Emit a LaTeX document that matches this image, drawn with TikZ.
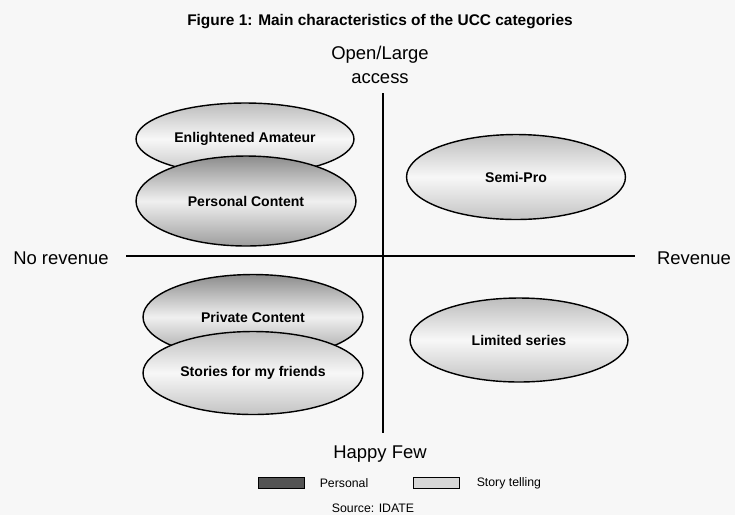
\documentclass[tikz,border=0pt]{standalone}
\usepackage{fontspec}
\setmainfont{Liberation Sans}
\usetikzlibrary{shapes.geometric,positioning}
\definecolor{PersonalClr}{gray}{0.55}
\definecolor{StoryClr}{gray}{0.74}
\definecolor{PaperClr}{gray}{0.97}

\begin{document}
\begin{tikzpicture}[x=0.02cm,y=-0.02cm]
\tikzset{
  AxisLine/.style={line width=0.7pt,color=black},
  AxisText/.style={inner sep=0pt,font=\fontsize{10.5}{13.6}\selectfont},
  TitleText/.style={inner sep=0pt,font=\fontsize{8.8}{10}\selectfont\bfseries},
  SmallText/.style={inner sep=0pt,font=\fontsize{7}{8}\selectfont},
  CatShape/.style={ellipse,draw=black,line width=0.8pt,inner sep=0pt,
    font=\fontsize{8}{9}\selectfont\bfseries},
  PersonalShape/.style={CatShape,top color=PersonalClr,bottom color=PersonalClr!85,middle color=gray!12},
  StoryShape/.style={CatShape,top color=StoryClr,bottom color=StoryClr!90,middle color=gray!6},
  PersonalBox/.style={draw=black,line width=0.5pt,fill=PersonalClr!60!black,minimum width=0.92cm,minimum height=0.22cm,inner sep=0pt},
  StoryBox/.style={draw=black,line width=0.5pt,fill=StoryClr!60,minimum width=0.92cm,minimum height=0.22cm,inner sep=0pt}
}
\fill[PaperClr] (0,0) rectangle (735,515);
\useasboundingbox (0,0) rectangle (735,515);

\node[TitleText] (title) at (380,22) {Figure 1: Main characteristics of the UCC categories};
\node[AxisText,align=center] (open) at (380,65) {Open/Large\\access};
\node[AxisText] (norev) at (61,258) {No revenue};
\node[AxisText] (rev) at (694,258) {Revenue};
\node[AxisText] (happy) at (380,454) {Happy Few};

\coordinate (Top) at (383,93);
\coordinate (Bottom) at (383,433);
\coordinate (Left) at (126,256);
\coordinate (Right) at (635,256);
\draw[AxisLine] (Top) -- (Bottom);
\draw[AxisLine] (Left) -- (Right);

\node[StoryShape,minimum width=4.36cm,minimum height=1.44cm] (amateur) at (245,139) {Enlightened Amateur};
\node[PersonalShape,minimum width=4.4cm,minimum height=1.8cm] (perscont) at (246,201) {Personal Content};
\node[StoryShape,minimum width=4.38cm,minimum height=1.7cm] (semipro) at (516,177) {Semi-Pro};
\node[PersonalShape,minimum width=4.4cm,minimum height=1.7cm] (privcont) at (253,317) {Private Content};
\node[StoryShape,minimum width=4.4cm,minimum height=1.66cm] (friends) at (253,373) {Stories for my friends};
\node[StoryShape,minimum width=4.36cm,minimum height=1.68cm] (limited) at (519,340) {Limited series};

\node[PersonalBox] (persbox) at (281,483) {};
\node[SmallText,anchor=west,right=0.3cm of persbox] (perstext) {Personal};
\node[StoryBox] (storybox) at (436,483) {};
\node[SmallText,anchor=west,right=0.34cm of storybox] (storytext) {Story telling};
\node[SmallText] (source) at (373,508) {Source: IDATE};

\end{tikzpicture}
\end{document}
